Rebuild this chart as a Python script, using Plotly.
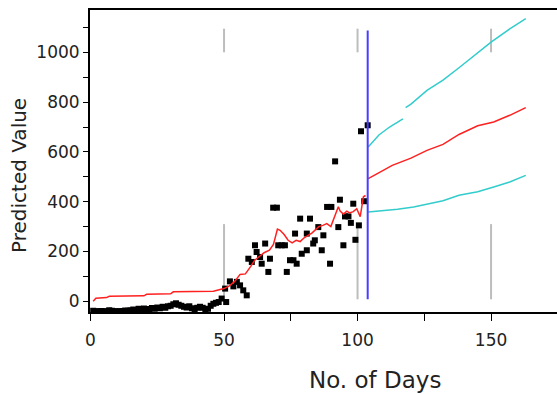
import plotly.graph_objects as go

# ---------------- data ----------------
obs_days = [1, 2, 3, 4, 5, 6, 7, 8, 9, 10, 11, 12, 13, 14, 15, 16, 17, 18, 19, 20,
            21, 22, 23, 24, 25, 26, 27, 28, 29, 30, 31, 32, 33, 34, 35, 36, 37, 38, 39, 40,
            41, 42, 43, 44, 45, 46, 47, 48, 49.1, 50.4, 50.8, 52.2, 53.5, 54.8, 56.0, 57.2, 58.5,
            59.1, 60.4, 61.6, 62.2, 63.5, 64.1, 65.4, 66.6, 67.2, 68.4, 69.8, 70.3, 71.6, 72.8,
            73.5, 74.7, 76.0, 76.6, 77.2, 78.5, 79.1, 81.0, 81.0, 82.2, 83.4, 84.0, 85.3, 86.6,
            87.2, 88.6, 89.7, 90.2, 91.6, 92.8, 93.4, 94.7, 95.3, 96.6, 97.5, 98.4, 99.2, 100.5,
            101.3, 102.5, 103.8]
obs_values = [-38, -40, -40, -39, -40, -40, -36, -38, -40, -40, -40, -39, -37, -38, -36, -33, -35, -30, -34, -29,
              -31, -34, -27, -30, -25, -28, -22, -26, -20, -18, -12, -8, -14, -18, -22, -25, -20, -28, -32, -26,
              -22, -26, -34, -30, -18, -10, -6, -3, 11, 51, -3, 80, 60, 78, 64, 44, 24,
              171, 158, 225, 198, 178, 151, 232, 118, 171, 376, 376, 225, 225, 225,
              118, 165, 165, 272, 151, 332, 191, 205, 272, 332, 232, 245, 298, 205,
              265, 379, 151, 379, 562, 298, 408, 225, 341, 341, 315, 392, 247, 305,
              683, 402, 707]

fit_days = [1, 2, 6, 7, 20, 21, 30, 31, 46, 48, 50, 52, 54, 56, 58, 60, 61.5, 63, 65, 67,
            68.5, 70, 71, 72.5, 74, 75.5, 77, 78.5, 80, 81.5, 83, 84.5, 85.5, 87, 88.5, 90,
            91, 92, 92.8, 93.5, 94.7, 96, 97, 98.4, 99.7, 101, 101.6, 102.2, 103]
fit_values = [0, 12, 15, 20, 22, 28, 30, 38, 40, 45, 51, 62, 80, 108, 110, 140, 165, 178, 195, 205,
              228, 290, 285, 268, 245, 235, 245, 240, 255, 265, 275, 290, 300, 305, 312, 300,
              330, 360, 380, 362, 350, 362, 355, 360, 372, 340, 378, 420, 425]

fc_days = [104, 113, 120, 126, 132, 138, 145, 151, 157, 163]
fc_values = [493, 546, 575, 606, 630, 670, 705, 720, 747, 778]

upper_days = [104, 108, 112, 117, None, 118, 120, 126, 132, 138, 144, 150, 157, 163]
upper_values = [620, 668, 700, 733, None, 778, 792, 847, 888, 938, 990, 1041, 1094, 1135]

lower_days = [104, 110, 115, 121, 126, 132, 138, 145, 151, 157, 163]
lower_values = [359, 365, 370, 379, 390, 404, 426, 440, 459, 479, 506]

origin_day = 103.8
origin_span = [8, 1088]

guide_days = [50, 100, 150]
guide_low = [8, 310]
guide_high = [1000, 1095]

x_ticks = [0, 50, 75, 100, 125, 150]
x_labels = ["0", "50", "", "100", "", "150"]
y_ticks = [0, 100, 200, 300, 400, 500, 600, 700, 800, 900, 1000, 1100]
y_labels = ["0", "", "200", "", "400", "", "600", "", "800", "", "1000", ""]

# ---------------- figure ----------------
fig = go.Figure()

for d in guide_days:
    fig.add_trace(go.Scatter(
        x=[d, d, None, d, d],
        y=[guide_low[0], guide_low[1], None, guide_high[0], guide_high[1]],
        mode="lines", line=dict(color="#bdbdbd", width=2), hoverinfo="skip"))

fig.add_trace(go.Scatter(x=obs_days, y=obs_values, mode="markers",
                         marker=dict(symbol="square", size=6, color="black"),
                         cliponaxis=True))

fig.add_trace(go.Scatter(x=fit_days, y=fit_values, mode="lines",
                         line=dict(color="#ff2020", width=1.5)))

fig.add_trace(go.Scatter(x=fc_days, y=fc_values, mode="lines",
                         line=dict(color="#ff2020", width=1.5)))
fig.add_trace(go.Scatter(x=upper_days, y=upper_values, mode="lines",
                         line=dict(color="#33cccc", width=1.5), connectgaps=False))
fig.add_trace(go.Scatter(x=lower_days, y=lower_values, mode="lines",
                         line=dict(color="#33cccc", width=1.5)))

fig.add_trace(go.Scatter(x=[origin_day, origin_day], y=origin_span, mode="lines",
                         line=dict(color="#4b3cff", width=2)))

tick_font = dict(family="DejaVu Sans", size=17, color="#222222")

W, H = 557, 394
L, R, T, B = 90, 0, 10, 82
pw = W - L - R
ph = H - T - B

fig.update_layout(
    width=W, height=H,
    margin=dict(l=L, r=R, t=T, b=B, autoexpand=False),
    paper_bgcolor="white", plot_bgcolor="white",
    showlegend=False,
    xaxis=dict(range=[-0.2, 174.7], tickmode="array", tickvals=x_ticks, ticktext=x_labels,
               showline=True, linecolor="black", linewidth=2, mirror=True,
               ticks="outside", ticklen=7, tickwidth=1, tickcolor="black",
               showgrid=False, zeroline=False, tickfont=tick_font,
               ticklabelstandoff=5),
    yaxis=dict(range=[-43, 1170], tickmode="array", tickvals=y_ticks, ticktext=y_labels,
               showline=True, linecolor="black", linewidth=2,
               ticks="outside", ticklen=5, tickwidth=1, tickcolor="black",
               showgrid=False, zeroline=False, tickfont=tick_font),
    annotations=[
        dict(text="No. of Days", x=(375 - L) / pw, y=(H - B - 380) / ph,
             xref="paper", yref="paper",
             showarrow=False, font=dict(family="DejaVu Sans", size=23, color="#222222"),
             xanchor="center", yanchor="middle"),
        dict(text="Predicted Value", x=(19 - L) / pw, y=(H - B - 176) / ph,
             xref="paper", yref="paper",
             showarrow=False, textangle=-90,
             font=dict(family="DejaVu Sans", size=20, color="#222222"),
             xanchor="center", yanchor="middle"),
    ],
)

fig.write_html(
    "out.html",
    config={"displayModeBar": False},
    post_script="document.body.style.margin='0px';document.body.style.overflow='hidden';",
)
